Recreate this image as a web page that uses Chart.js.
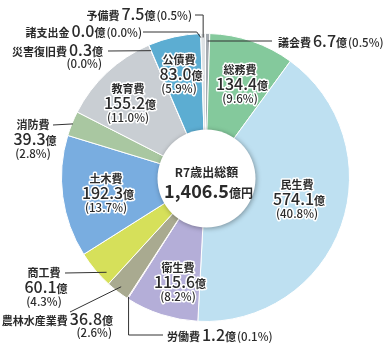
<!DOCTYPE html>
<html>
<head>
<meta charset="utf-8">
<script src="https://cdn.jsdelivr.net/npm/chart.js@4.4.1/dist/chart.umd.min.js"></script>
<style>
  html, body { margin: 0; padding: 0; background: #ffffff; }
  canvas { display: block; }
</style>
</head>
<body>
<canvas id="budget" width="387" height="348"></canvas>
<script>
// 令和7年度 歳出（目的別）
const categories = ['議会費', '総務費', '民生費', '衛生費', '労働費', '農林水産業費', '商工費',
                    '土木費', '消防費', '教育費', '災害復旧費', '公債費', '諸支出金', '予備費'];
const amounts = [6.7, 134.4, 574.1, 115.6, 1.2, 36.8, 60.1, 192.3, 39.3, 155.2, 0.3, 83.0, 0.0, 7.5];
const sliceColors = ['#a4aab0', '#84c99c', '#bee0f1', '#b4aed8', '#c8418c', '#a9aa90', '#d6e05a',
                     '#79ade0', '#a9c7a1', '#c9ced3', '#b09cc8', '#5cadd2', '#c0c4c8', '#dde1e4'];
const centerTitle = 'R7歳出総額';
const unit = '億';
const totalUnit = '億円';

const total = amounts.reduce((a, b) => a + b, 0);
const pct = v => '(' + (v / total * 100).toFixed(1) + '%)';
const fmtTotal = t => t.toFixed(1).replace(/\B(?=(\d{3})+(?!\d))/g, ',');

const FONT = '"Noto Sans CJK JP", "Noto Sans", sans-serif';
const F_NAME = 'bold 11px ' + FONT;
const F_NUM = '500 16px ' + FONT;
const F_UNIT = 'bold 11px ' + FONT;
const F_PCT = '500 11.5px ' + FONT;
const INK = '#2b2b2b';

// where each label sits and how its leader reaches the slice
const labelLayout = [
  { kind: 'inline', x: 278, y: 42, align: 'left',  leader: { type: 'toArcX', from: [272, 41], r: 138 } },
  { kind: 'inside', x: 240, y: 70 },
  { kind: 'inside', x: 297, y: 185 },
  { kind: 'inside', x: 178, y: 268 },
  { kind: 'inline', x: 167, y: 336, align: 'left',  leader: { type: 'elbowDown', to: [163, 335], r: 142 } },
  { kind: 'split',  x: 113, y: 320, align: 'right', leader: { type: 'straight', from: [70, 312], frac: 0.5, r: 138 } },
  { kind: 'stack',  x: 44,  y: 273, leader: { type: 'straight', from: [65, 273], frac: 0.25, r: 137 } },
  { kind: 'inside', x: 106, y: 179 },
  { kind: 'stack',  x: 33,  y: 125, leader: { type: 'straight', from: [53, 125], frac: 0.5, r: 143 } },
  { kind: 'inside', x: 128, y: 89 },
  { kind: 'split',  x: 103, y: 51, align: 'right', leader: { type: 'straight', from: [108, 51], frac: 0.5, r: 138 } },
  { kind: 'inside', x: 179, y: 60 },
  { kind: 'inline', x: 142, y: 32, align: 'right', leader: { type: 'elbowIn', from: [143, 32], r: 140 } },
  { kind: 'inline', x: 192, y: 15, align: 'right', leader: { type: 'elbowTop', from: [195, 15], r: 140 } }
];

function arcPoint(chart, i, frac, r) {
  const arc = chart.getDatasetMeta(0).data[i];
  const a = arc.startAngle + (arc.endAngle - arc.startAngle) * frac;
  return [arc.x + Math.cos(a) * r, arc.y + Math.sin(a) * r];
}

// draws a run of differently styled pieces on one baseline
function drawRun(ctx, parts, x, baseline, align, halo) {
  let w = 0;
  parts.forEach(p => { ctx.font = p.font; p.w = ctx.measureText(p.text).width; w += p.w + (p.gap || 0); });
  let cx = align === 'left' ? x : align === 'right' ? x - w : x - w / 2;
  ctx.textAlign = 'left';
  ctx.textBaseline = 'alphabetic';
  parts.forEach(p => {
    ctx.font = p.font;
    if (halo) {
      ctx.lineJoin = 'round';
      ctx.lineWidth = 3;
      ctx.strokeStyle = '#ffffff';
      ctx.strokeText(p.text, cx, baseline);
    }
    ctx.fillStyle = INK;
    ctx.fillText(p.text, cx, baseline);
    cx += p.w + (p.gap || 0);
  });
}

function drawLeader(ctx, chart, i, ld) {
  ctx.beginPath();
  if (ld.type === 'straight') {
    const p = arcPoint(chart, i, ld.frac, ld.r);
    ctx.moveTo(ld.from[0], ld.from[1]);
    ctx.lineTo(p[0], p[1]);
  } else if (ld.type === 'toArcX') {
    const p = arcPoint(chart, i, 0.5, ld.r);
    ctx.moveTo(ld.from[0], ld.from[1]);
    ctx.lineTo(p[0], ld.from[1]);
  } else if (ld.type === 'elbowTop') {
    const p = arcPoint(chart, i, 0.5, ld.r);
    ctx.moveTo(ld.from[0], ld.from[1]);
    ctx.lineTo(p[0], ld.from[1]);
    ctx.lineTo(p[0], p[1]);
  } else if (ld.type === 'elbowIn') {
    const p = arcPoint(chart, i, 0.5, ld.r);
    ctx.moveTo(ld.from[0], ld.from[1]);
    ctx.lineTo(p[0] - 4, ld.from[1]);
    ctx.lineTo(p[0], p[1]);
  } else if (ld.type === 'elbowDown') {
    const p = arcPoint(chart, i, 0.5, ld.r);
    ctx.moveTo(p[0], p[1]);
    ctx.lineTo(p[0], ld.to[1]);
    ctx.lineTo(ld.to[0], ld.to[1]);
  }
  ctx.strokeStyle = '#333333';
  ctx.lineWidth = 1;
  ctx.stroke();
}

const labelPlugin = {
  id: 'budgetLabels',
  afterDatasetsDraw(chart) {
    const ctx = chart.ctx;
    const arc0 = chart.getDatasetMeta(0).data[0];
    const cx = arc0.x, cy = arc0.y;

    // white centre disc with a soft shadow
    ctx.save();
    ctx.shadowColor = 'rgba(0,0,0,0.35)';
    ctx.shadowBlur = 5;
    ctx.shadowOffsetX = 1;
    ctx.shadowOffsetY = 1;
    ctx.beginPath();
    ctx.arc(cx + 1, cy + 1, 49, 0, Math.PI * 2);
    ctx.fillStyle = '#ffffff';
    ctx.fill();
    ctx.restore();

    ctx.save();
    drawRun(ctx, [{ text: centerTitle, font: 'bold 12px ' + FONT }], cx + 1, cy - 1, 'center', false);
    drawRun(ctx, [{ text: fmtTotal(total), font: 'bold 18px ' + FONT, gap: 0 },
                  { text: totalUnit, font: 'bold 12px ' + FONT }], cx + 3, cy + 20, 'center', false);

    labelLayout.forEach((L, i) => {
      const name = categories[i];
      const num = amounts[i].toFixed(1);
      if (L.leader) drawLeader(ctx, chart, i, L.leader);
      if (L.kind === 'inside' || L.kind === 'stack') {
        const halo = L.kind === 'inside';
        drawRun(ctx, [{ text: name, font: F_NAME }], L.x, L.y + 4, 'center', halo);
        drawRun(ctx, [{ text: num, font: F_NUM }, { text: unit, font: F_UNIT }], L.x + 2, L.y + 20, 'center', halo);
        drawRun(ctx, [{ text: pct(amounts[i]), font: F_PCT }], L.x, L.y + 33, 'center', halo);
      } else if (L.kind === 'inline') {
        drawRun(ctx, [{ text: name, font: F_NAME, gap: 2 }, { text: num, font: F_NUM },
                      { text: unit, font: F_UNIT, gap: 1 }, { text: pct(amounts[i]), font: F_PCT }],
                L.x, L.y + 5, L.align, false);
      } else if (L.kind === 'split') {
        drawRun(ctx, [{ text: name, font: F_NAME, gap: 2 }, { text: num, font: F_NUM },
                      { text: unit, font: F_UNIT }], L.x, L.y + 5, L.align, false);
        drawRun(ctx, [{ text: pct(amounts[i]), font: F_PCT }], L.x - 1, L.y + 17, 'right', false);
      }
    });
    ctx.restore();
  }
};

new Chart(document.getElementById('budget'), {
  type: 'doughnut',
  data: {
    labels: categories,
    datasets: [{
      data: amounts,
      backgroundColor: sliceColors,
      borderColor: '#ffffff',
      borderWidth: 1
    }]
  },
  options: {
    responsive: false,
    animation: false,
    cutout: 44,
    layout: { padding: { left: 61, right: 37, top: 33, bottom: 26 } },
    plugins: { legend: { display: false }, tooltip: { enabled: false } }
  },
  plugins: [labelPlugin]
});
</script>
</body>
</html>
